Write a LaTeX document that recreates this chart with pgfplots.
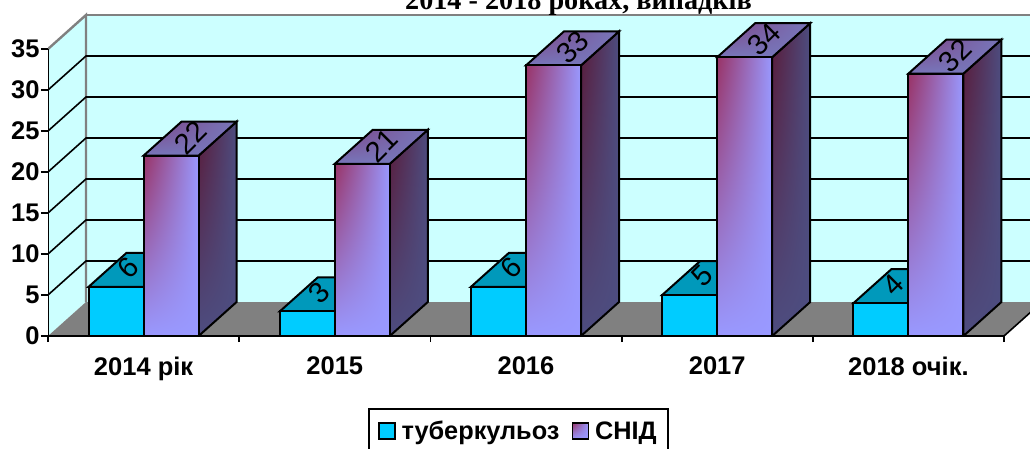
\documentclass[border=0pt]{standalone}
\usepackage{fontspec}
\setmainfont{Liberation Sans}
\newfontfamily\titlefont{Liberation Serif}
\usepackage{pgfplots}
\usetikzlibrary{shadings}
\pgfplotsset{compat=1.18}
\definecolor{wallc}{HTML}{CCFFFF}
\definecolor{floorc}{HTML}{808080}
\definecolor{tubf}{HTML}{00CCFF}
\definecolor{tubt}{HTML}{0099BB}
\definecolor{lav}{HTML}{9999FF}
\definecolor{mag}{HTML}{993366}
\definecolor{sidel}{HTML}{4D4D80}
\definecolor{sided}{HTML}{5A1A38}
\definecolor{topl}{HTML}{7777BB}
\definecolor{topd}{HTML}{7F3F80}
\newcommand{\dx}{0.1987}
\newcommand{\dy}{4.146}
\newcommand{\bw}{0.2877}
% #1 category centre, #2 tuberculosis, #3 AIDS
\newcommand{\barpair}[3]{%
  \addplot[forget plot,draw=black,line width=2pt,fill=tubt] coordinates {({#1-\bw},#2) ({#1-\bw+\dx},{#2+\dy}) ({#1+\dx},{#2+\dy}) (#1,#2)} -- cycle;
  \addplot[forget plot,draw=black,line width=2pt,fill=tubf] coordinates {({#1-\bw},0) ({#1-\bw},#2) (#1,#2) (#1,0)} -- cycle;
  \addplot[forget plot,draw=black,line width=2pt,upper left=sided,upper right=sidel,lower left=sidel,lower right=sidel] coordinates {({#1+\bw},0) ({#1+\bw},#3) ({#1+\bw+\dx},{#3+\dy}) ({#1+\bw+\dx},\dy)} -- cycle;
  \addplot[forget plot,draw=black,line width=2pt,upper left=topd,upper right=topl,lower left=topl,lower right=topl] coordinates {(#1,#3) ({#1+\dx},{#3+\dy}) ({#1+\bw+\dx},{#3+\dy}) ({#1+\bw},#3)} -- cycle;
  \addplot[forget plot,draw=black,line width=2pt,upper left=mag,upper right=lav,lower left=lav,lower right=lav] coordinates {(#1,0) (#1,#3) ({#1+\bw},#3) ({#1+\bw},0)} -- cycle;
  \node[rotate=45,font=\fontsize{29}{29}\selectfont,inner sep=0pt] at (axis cs:{#1-0.08},{#2+2.3}) {#2};
  \node[rotate=45,font=\fontsize{29}{29}\selectfont,inner sep=0pt] at (axis cs:{#1+0.245},{#3+2.2}) {#3};
}
\begin{document}
\begin{tikzpicture}[x=1pt,y=1pt]
\useasboundingbox (0,0) rectangle (1030,448);
\clip (0,0) rectangle (1030,448);
\begin{axis}[
  at={(48pt,112pt)},anchor=south west,scale only axis,
  width=982pt,height=323pt,
  xmin=0,xmax=5.136,ymin=0,ymax=39.39,
  axis line style={draw=none},
  xtick={0.5,1.5,2.5,3.5,4.5},
  xticklabels={2014 рік,2015,2016,2017,2018 очік.},
  minor xtick={0,1,2,3,4,5},
  ytick={0,5,10,15,20,25,30,35},
  xtick pos=bottom,ytick pos=left,
  tick align=outside,
  major x tick style={draw=none},
  minor x tick style={draw=black,line width=1.8pt},
  minor tick length=6pt,
  y tick style={draw=black,line width=1.8pt},
  major tick length=7pt,
  /pgf/number format/assume math mode=true,
  tick label style={font=\fontsize{25.5}{26}\selectfont\bfseries},
  yticklabel style={xshift=2pt},
  xticklabel style={yshift=-10pt},
  legend columns=2,
  legend cell align=left,
  legend style={at={(rel axis cs:0.3259,-0.2229)},anchor=north west,draw=black,line width=1.8pt,
    font=\fontsize{25.3}{26}\selectfont\bfseries,inner xsep=9pt,inner ysep=10pt,
    /tikz/every odd column/.append style={column sep=4pt},
    /tikz/every even column/.append style={column sep=10pt}},
]
% back wall
\addplot[forget plot,draw=none,fill=wallc] coordinates {(\dx,\dy) (\dx,{35+\dy}) (5.3,{35+\dy}) (5.3,\dy)} -- cycle;
\addplot[forget plot,draw=floorc,line width=2.4pt] coordinates {(\dx,{35+\dy}) (5.3,{35+\dy})};
% side wall
\addplot[forget plot,draw=none,fill=wallc] coordinates {(0,0) (0,35) (\dx,{35+\dy}) (\dx,\dy)} -- cycle;
\addplot[forget plot,draw=floorc,line width=2.4pt] coordinates {(0,35) (\dx,{35+\dy}) (\dx,\dy)};
% floor
\addplot[forget plot,draw=none,fill=floorc] coordinates {(0,0) (\dx,\dy) ({5+\dx},\dy) (5,0)} -- cycle;
\addplot[forget plot,draw=black,line width=1.6pt] coordinates {(5,0) ({5+\dx},\dy)};
% grid
\pgfplotsinvokeforeach{5,10,15,20,25,30}{
  \addplot[forget plot,draw=black,line width=1.6pt] coordinates {(0,#1) (\dx,{#1+\dy}) (5.3,{#1+\dy})};
}
\barpair{0.5}{6}{22}
\barpair{1.5}{3}{21}
\barpair{2.5}{6}{33}
\barpair{3.5}{5}{34}
\barpair{4.5}{4}{32}
% axis lines
\addplot[forget plot,draw=black,line width=2pt] coordinates {(0,35) (0,0) (5,0)};
\addlegendimage{legend image code/.code={\draw[draw=black,line width=1.6pt,fill=tubf] (0pt,-8pt) rectangle (16pt,8pt);}}
\addlegendentry{туберкульоз}
\addlegendimage{legend image code/.code={\draw[draw=black,line width=1.6pt,upper left=mag,upper right=lav,lower left=lav,lower right=lav] (0pt,-8pt) rectangle (16pt,8pt);}}
\addlegendentry{СНІД\hspace{6pt}}
\end{axis}
\node[anchor=base,font=\fontsize{28.2}{28}\selectfont\titlefont\bfseries] at (578.5,438) {2014 - 2018 роках, випадків};
\end{tikzpicture}
\end{document}
